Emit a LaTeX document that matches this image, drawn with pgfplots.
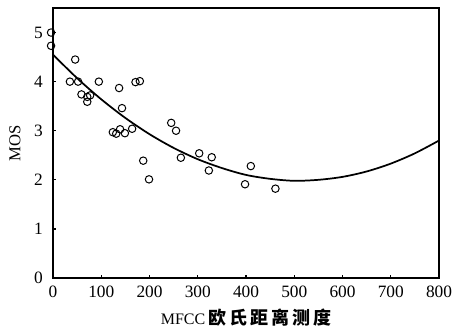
\documentclass[border=0pt]{standalone}
\usepackage{pgfplots}
\pgfplotsset{compat=1.18}
\usepackage{fontspec}
\setmainfont{Liberation Serif}
\newfontfamily\cjk{Noto Sans CJK SC}
\begin{document}
\fontsize{13}{15}\selectfont
\begin{tikzpicture}
\begin{axis}[
  scale only axis,
  width=289.5pt, height=202.5pt,
  xmin=0, xmax=800, ymin=0, ymax=5.5,
  xtick={0,100,...,800},
  ytick={0,1,2,3,4,5},
  xtick pos=bottom, ytick pos=left,
  tick align=inside,
  major tick length=2.5pt,
  tick style={line width=0.9pt, black},
  axis line style={line width=1.6pt},
  /pgf/number format/assume math mode=true,
  tick label style={font=\fontsize{13}{15}\selectfont, inner sep=0pt},
  xticklabel style={anchor=base, yshift=-14.25pt},
  yticklabel style={anchor=east, xshift=-7.5pt},
  xlabel={{\fontsize{12}{14}\selectfont MFCC}\,{\cjk\bfseries\fontsize{13.5}{15}\selectfont 欧\,氏\,距\,离\,测\,度}},
  ylabel={MOS},
  label style={font=\fontsize{12.5}{14}\selectfont},
  xlabel style={at={(axis description cs:0.5,-0.148)}, anchor=center},
  ylabel style={at={(axis description cs:-0.0984,0.5)}, anchor=center},
  clip=false,
]
\coordinate (bl) at (rel axis cs:0,0);
\coordinate (tr) at (rel axis cs:1,1);
\addplot[only marks, mark=o, mark size=2.8pt, mark options={line width=0.75pt}] coordinates {
(-4,5.0) (-4,4.73) (46,4.45) (35,4.0) (52,4.0) (59,3.74) (71,3.69) (77,3.72) (71,3.59)
(95,4.0) (137,3.87) (143,3.46) (171,3.99) (180,4.01)
(124,2.97) (131,2.94) (139,3.03) (149,2.95) (164,3.04)
(245,3.16) (255,3.00) (187,2.39) (199,2.01) (265,2.45) (303,2.54) (329,2.46) (323,2.19)
(410,2.28) (398,1.91) (461,1.82)
};
\addplot[smooth, line width=1.3pt] coordinates {
(0,4.55) (50,4.07) (100,3.64) (150,3.26) (200,2.93) (250,2.65) (300,2.42) (350,2.24)
(400,2.10) (450,2.02) (500,1.98) (550,2.00) (600,2.06) (650,2.17) (700,2.33) (750,2.54) (800,2.80)
};
\end{axis}
\pgfresetboundingbox
\path[use as bounding box] ([shift={(-39.75pt,-40.5pt)}]bl) rectangle ([shift={(10.5pt,6pt)}]tr);
\end{tikzpicture}
\end{document}
